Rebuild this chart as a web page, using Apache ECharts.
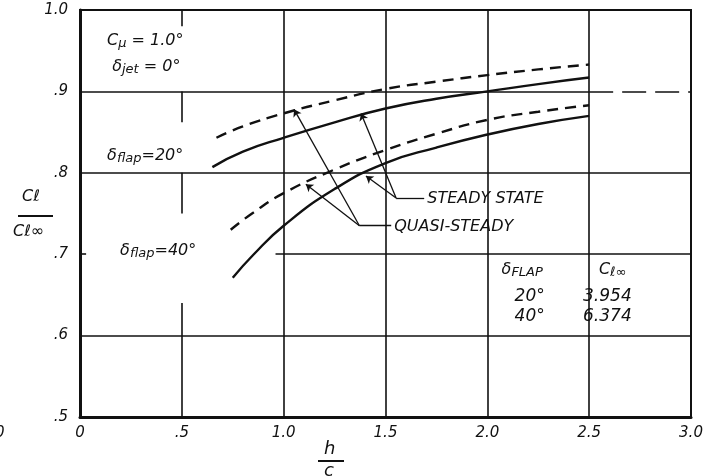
<!DOCTYPE html>
<html>
<head>
<meta charset="utf-8">
<script src="https://cdn.jsdelivr.net/npm/echarts@6/dist/echarts.min.js"></script>
<style>
  html, body { margin: 0; padding: 0; background: #fff; }
  #chart { width: 712px; height: 476px; }
</style>
</head>
<body>
<div id="chart"></div>
<script>
// h/c positions and Cl/Cl_inf ratios
const xFlap20Steady = [0.65, 0.8, 1.0, 1.25, 1.5, 1.75, 2.0, 2.25, 2.5]
const yFlap20Steady = [0.807, 0.826, 0.843, 0.862, 0.879, 0.891, 0.900, 0.909, 0.917]
const xFlap20Quasi = [0.67, 0.8, 1.0, 1.25, 1.5, 1.75, 2.0, 2.25, 2.5]
const yFlap20Quasi = [0.843, 0.857, 0.873, 0.889, 0.903, 0.912, 0.920, 0.927, 0.933]
const xFlap40Steady = [0.75, 0.85, 1.0, 1.25, 1.5, 1.75, 2.0, 2.25, 2.5]
const yFlap40Steady = [0.671, 0.699, 0.735, 0.780, 0.812, 0.831, 0.847, 0.860, 0.870]
const xFlap40Quasi = [0.74, 0.85, 1.0, 1.25, 1.5, 1.75, 2.0, 2.25, 2.5]
const yFlap40Quasi = [0.730, 0.751, 0.775, 0.804, 0.828, 0.848, 0.865, 0.875, 0.883]

const xTickLabels = ['0', '.5', '1.0', '1.5', '2.0', '2.5', '3.0']
const yTickLabels = ['.5', '.6', '.7', '.8', '.9', '1.0']

const tableFlaps = ['20°', '40°']
const tableClInf = ['3.954', '6.374']

const FONT = 'DejaVu Sans'
const INK = '#111'

const zip = (xs, ys) => xs.map((x, i) => [x, ys[i]])

// hand drawn grid: some lines are broken where the lettering sits
const gridSegs = [
    [[0.5, 0.98], [0.5, 1.0]],
    [[0.5, 0.862], [0.5, 0.9]],
    [[0.5, 0.75], [0.5, 0.8]],
    [[0.5, 0.5], [0.5, 0.64]],
    [[1.0, 0.5], [1.0, 1.0]],
    [[1.5, 0.5], [1.5, 1.0]],
    [[2.0, 0.5], [2.0, 1.0]],
    [[2.5, 0.5], [2.5, 1.0]],
    [[0, 0.6], [3, 0.6]],
    [[0.96, 0.7], [3, 0.7]],
    [[0, 0.7], [0.03, 0.7]],
    [[0, 0.8], [3, 0.8]],
    [[0, 0.9], [2.5, 0.9]]
]

const gridLines = gridSegs.map(s => [{ coord: s[0] }, { coord: s[1] }])
gridLines.push([
    { coord: [2.5, 0.9], lineStyle: { type: [24, 9] } },
    { coord: [3, 0.9] }
])

// leader lines for the two labels
const leaders = [
    [[1.372, 0.735], [1.528, 0.735], false],
    [[1.372, 0.735], [1.051, 0.878], true],
    [[1.372, 0.735], [1.109, 0.786], true],
    [[1.552, 0.769], [1.690, 0.769], false],
    [[1.552, 0.769], [1.380, 0.873], true],
    [[1.552, 0.769], [1.404, 0.796], true]
].map(l => [
    { coord: l[0], symbol: 'none' },
    { coord: l[1], symbol: l[2] ? 'arrow' : 'none' }
])

const txt = (coord, formatter, size) => ({
    coord: coord,
    symbolSize: 0,
    label: {
        show: true,
        position: [0, 0],
        align: 'left',
        verticalAlign: 'middle',
        formatter: formatter,
        fontFamily: FONT,
        fontStyle: 'italic',
        fontSize: size || 16,
        color: INK,
        rich: {
            s: { fontFamily: FONT, fontStyle: 'italic', fontSize: 13, color: INK, padding: [6, 0, 0, 0] },
            n: { fontFamily: FONT, fontStyle: 'italic', fontSize: size || 16, color: INK }
        }
    }
})

const notes = [
    txt([0.133, 0.9625], '{n|C}{s|μ}{n| = 1.0°}'),
    txt([0.158, 0.930], '{n|δ}{s|jet}{n| = 0°}'),
    txt([0.133, 0.821], '{n|δ}{s|flap}{n|=20°}'),
    txt([0.197, 0.704], '{n|δ}{s|flap}{n|=40°}'),
    txt([1.705, 0.768], 'STEADY STATE', 16),
    txt([1.543, 0.734], 'QUASI-STEADY', 16),
    txt([2.07, 0.681], '{n|δ}{s|FLAP}'),
    txt([2.548, 0.681], '{n|C}{s|ℓ∞}')
]
tableFlaps.forEach((f, i) => {
    notes.push(txt([2.134, 0.648 - i * 0.025], f, 17))
    notes.push(txt([2.47, 0.648 - i * 0.025], tableClInf[i], 17))
})

const curve = (name, xs, ys, dashed) => ({
    name: name,
    type: 'line',
    data: zip(xs, ys),
    smooth: 0.5,
    showSymbol: false,
    z: 5,
    lineStyle: { color: INK, width: 2.4, type: dashed ? [11, 7] : 'solid' }
})

const chart = echarts.init(document.getElementById('chart'))

const option = {
    animation: false,
    backgroundColor: '#fff',
    grid: {
        left: 80, right: 21, top: 10, bottom: 59,
        show: true,
        borderColor: INK,
        borderWidth: 2
    },
    xAxis: {
        type: 'value',
        min: 0, max: 3, interval: 0.5,
        axisLine: { lineStyle: { color: INK, width: 3 } },
        axisTick: { show: false },
        splitLine: { show: false },
        axisLabel: {
            margin: 9,
            fontFamily: FONT, fontStyle: 'italic', fontSize: 15, color: INK,
            formatter: v => xTickLabels[Math.round(v * 2)]
        }
    },
    yAxis: {
        type: 'value',
        min: 0.5, max: 1.0, interval: 0.1,
        axisLine: { show: true, lineStyle: { color: INK, width: 3 } },
        axisTick: { show: false },
        splitLine: { show: false },
        axisLabel: {
            margin: 12,
            fontFamily: FONT, fontStyle: 'italic', fontSize: 15, color: INK,
            formatter: v => yTickLabels[Math.round((v - 0.5) * 10)]
        }
    },
    series: [
        {
            name: 'grid',
            type: 'line',
            data: [],
            z: 1,
            silent: true,
            markLine: {
                silent: true,
                symbol: 'none',
                label: { show: false },
                lineStyle: { color: INK, width: 1.6, type: 'solid' },
                data: gridLines
            }
        },
        curve('20 steady', xFlap20Steady, yFlap20Steady, false),
        curve('20 quasi', xFlap20Quasi, yFlap20Quasi, true),
        curve('40 steady', xFlap40Steady, yFlap40Steady, false),
        curve('40 quasi', xFlap40Quasi, yFlap40Quasi, true),
        {
            name: 'notes',
            type: 'line',
            data: [],
            z: 6,
            silent: true,
            markLine: {
                silent: true,
                symbolSize: 7,
                label: { show: false },
                lineStyle: { color: INK, width: 1.3, type: 'solid' },
                data: leaders
            },
            markPoint: {
                silent: true,
                data: notes
            }
        }
    ],
    graphic: [
        { type: 'text', left: 22, top: 189, style: { text: 'Cℓ', font: 'italic 16px "DejaVu Sans"', fill: INK } },
        { type: 'line', shape: { x1: 18, y1: 216, x2: 53, y2: 216 }, style: { stroke: INK, lineWidth: 2 } },
        { type: 'text', left: 13, top: 224, style: { text: 'Cℓ∞', font: 'italic 16px "DejaVu Sans"', fill: INK } },
        { type: 'text', left: 324, top: 440, style: { text: 'h', font: 'italic 18px "DejaVu Sans"', fill: INK } },
        { type: 'line', shape: { x1: 318, y1: 461, x2: 344, y2: 461 }, style: { stroke: INK, lineWidth: 2 } },
        { type: 'text', left: 324, top: 462, style: { text: 'c', font: 'italic 18px "DejaVu Sans"', fill: INK } },
        { type: 'text', left: -5, top: 426, style: { text: '0', font: 'italic 15px "DejaVu Sans"', fill: INK } }
    ]
}

chart.setOption(option)
</script>
</body>
</html>
